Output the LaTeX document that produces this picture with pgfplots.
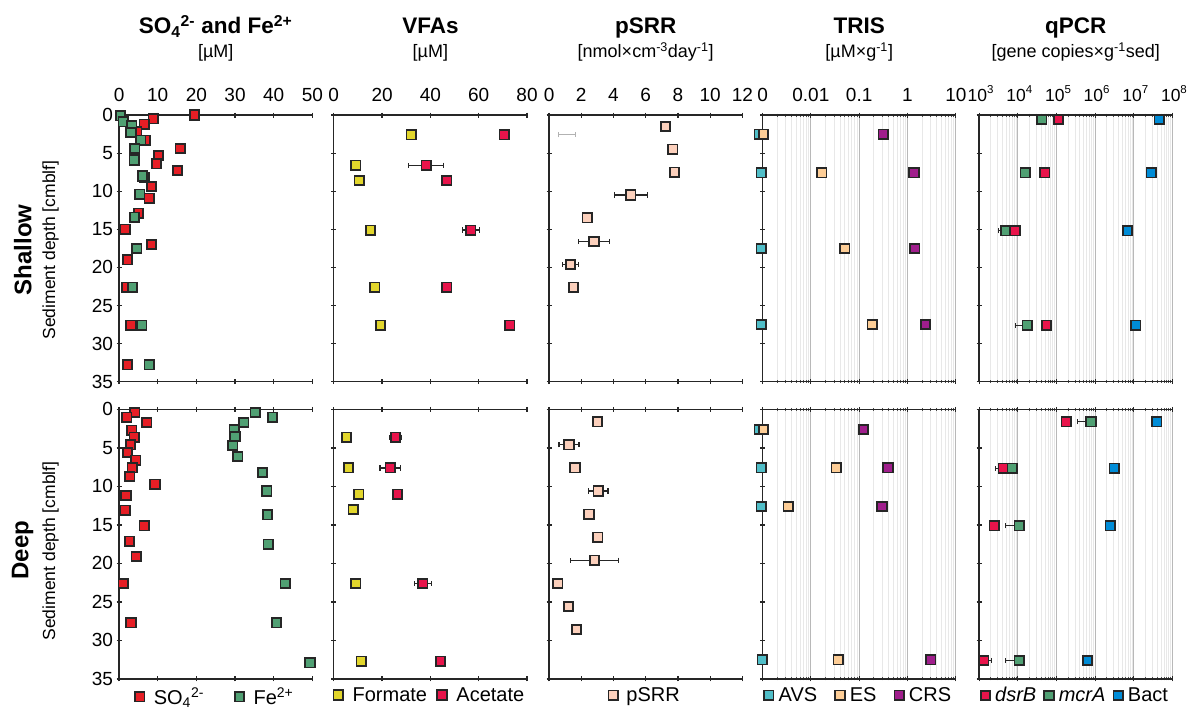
\documentclass[border=0pt]{standalone}
\usepackage{fontspec}
\setmainfont{Liberation Sans}
\usepackage{pgfplots}
\pgfplotsset{compat=1.18}

\definecolor{cSO}{HTML}{E61E25}
\definecolor{cFe}{HTML}{50A073}
\definecolor{cFor}{HTML}{E2D62C}
\definecolor{cAce}{HTML}{E8144B}
\definecolor{cSRR}{HTML}{FCD0BC}
\definecolor{cAVS}{HTML}{50BEC8}
\definecolor{cES}{HTML}{FDCD96}
\definecolor{cCRS}{HTML}{A01E8C}
\definecolor{cBact}{HTML}{008CD7}

\newcommand\tickf{\fontsize{19}{21}\selectfont}
\newcommand\legf{\fontsize{20}{22}\selectfont}
\newcommand\titf{\fontsize{22.5}{24}\selectfont\bfseries}
\newcommand\unitf{\fontsize{18}{20}\selectfont}
\newcommand\tenp[1]{10\raisebox{0.45em}{\fontsize{11.5}{12}\selectfont#1}}

\pgfplotsset{legend image code/.code={\draw[#1] plot coordinates {(0pt,0pt)};}}

\pgfplotsset{
  panel/.style={
    scale only axis, width=193.3pt, clip=false,
    ymin=0, ymax=35, y dir=reverse,
    separate axis lines, axis x line*=box, axis y line*=left,
    ytick={0,5,...,35}, yticklabels={},
    tick align=center, major tick length=5pt, minor tick length=3pt,
    axis line style={line width=1.4pt, draw=black!85},
    major tick style={line width=1.2pt, black!85},
    minor tick style={line width=0.6pt, black!70},
    tick label style={font=\tickf},
    /pgf/number format/assume math mode=true,
  },
  toprow/.style={height=266.7pt, xticklabel pos=upper, xticklabel style={yshift=7pt}},
  botrow/.style={height=269.5pt, xticklabels={}},
  leg/.style 2 args={legend columns=-1, legend style={draw=none, fill=none, font=\legf,
      at={(0.5,-0.027)}, anchor=north, inner sep=0pt,
      nodes={inner xsep=3pt, inner ysep=1pt},
      /tikz/every odd column/.append style={column sep=#1},
      /tikz/every even column/.append style={column sep=#2}}},
  mk/.style={only marks, mark=square*, mark size=4.7pt,
      mark options={draw=black!85, line width=1.7pt, fill=#1, solid}},
  errx/.style 2 args={only marks, mark=*, mark size=0.01pt,
      mark options={draw opacity=0, fill opacity=0}, forget plot,
      error bars/.cd, x dir=both, x explicit,
      error bar style={line width=#2, #1},
      error mark options={rotate=90, line width=#2, #1, mark size=2.6pt, draw opacity=1}},
  errk/.style={errx={black!85}{1.2pt}},
  trisax/.style={xmin=1e-3, xmax=10,
      xtick={1e-3,1e-2,1e-1,1,10}, xticklabels={0,0.01,0.1,1,10},
      minor xtick={2e-3,3e-3,4e-3,5e-3,6e-3,7e-3,8e-3,9e-3,
                   2e-2,3e-2,4e-2,5e-2,6e-2,7e-2,8e-2,9e-2,
                   0.2,0.3,0.4,0.5,0.6,0.7,0.8,0.9,2,3,4,5,6,7,8,9},
      xmajorgrids, xminorgrids,
      major grid style={black!28, line width=0.8pt},
      minor grid style={black!9, line width=0.6pt}},
  qpcrax/.style={xmin=1e3, xmax=1e8,
      xtick={1e3,1e4,1e5,1e6,1e7,1e8},
      xticklabels={\tenp{3},\tenp{4},\tenp{5},\tenp{6},\tenp{7},\tenp{8}},
      xticklabel style={font=\fontsize{17.5}{19}\selectfont, xshift=1.5pt},
      minor xtick={2e3,3e3,4e3,5e3,6e3,7e3,8e3,9e3,2e4,3e4,4e4,5e4,6e4,7e4,8e4,9e4,
                   2e5,3e5,4e5,5e5,6e5,7e5,8e5,9e5,2e6,3e6,4e6,5e6,6e6,7e6,8e6,9e6,
                   2e7,3e7,4e7,5e7,6e7,7e7,8e7,9e7},
      xmajorgrids, xminorgrids,
      major grid style={black!28, line width=0.8pt},
      minor grid style={black!9, line width=0.6pt}},
}

\begin{document}
\begin{tikzpicture}
\useasboundingbox (0,0) rectangle (1187pt,710pt);

% ---------- titles ----------
\node[anchor=base, font=\titf] at (215.7pt,676pt) {SO\textsubscript{4}\textsuperscript{2-} and Fe\textsuperscript{2+}};
\node[anchor=base, font=\unitf] at (215.7pt,652pt) {[µM]};
\node[anchor=base, font=\titf] at (430.4pt,676pt) {VFAs};
\node[anchor=base, font=\unitf] at (430.4pt,652pt) {[µM]};
\node[anchor=base, font=\titf] at (645.7pt,676pt) {pSRR};
\node[anchor=base, font=\unitf] at (645.7pt,652pt) {[nmol×cm\textsuperscript{-3}day\textsuperscript{-1}]};
\node[anchor=base, font=\titf] at (859.2pt,676pt) {TRIS};
\node[anchor=base, font=\unitf] at (859.2pt,652pt) {[µM×g\textsuperscript{-1}]};
\node[anchor=base, font=\titf] at (1075.8pt,676pt) {qPCR};
\node[anchor=base, font=\unitf] at (1075.8pt,652pt) {[gene copies×g\textsuperscript{-1}sed]};

% ---------- row labels ----------
\node[rotate=90, font=\fontsize{24}{26}\selectfont\bfseries] at (22.7pt,460pt) {Shallow};
\node[rotate=90, font=\fontsize{17.5}{19}\selectfont] at (50.5pt,460pt) {Sediment depth [cmblf]};
\node[rotate=90, font=\fontsize{24}{26}\selectfont\bfseries] at (22.7pt,160pt) {Deep};
\node[rotate=90, font=\fontsize{17.5}{19}\selectfont] at (50.5pt,159pt) {Sediment depth [cmblf]};

% ================= TOP ROW =================
\begin{axis}[panel, toprow, at={(215.7pt,461.65pt)}, anchor=center,
  xmin=0, xmax=50, xtick={0,10,...,50}, yticklabels={0,5,10,15,20,25,30,35}]
\addplot[mk=cSO] table {
x y
19.5 0
8.8 0.5
6.5 1.2
4.6 2.2
6.8 3.3
15.8 4.4
10.2 5.3
9.7 6.4
15.1 7.3
6.5 8.2
8.4 9.4
7.8 10.9
5.0 12.9
1.6 15.0
8.4 17.0
2.2 19.0
2.0 22.6
3.1 27.6
2.2 32.8
};
\addplot[mk=cFe] table {
x y
0.4 0.1
1.1 0.9
3.3 1.4
3.1 2.3
5.6 3.3
4.1 4.4
3.9 5.9
6.1 8.0
5.4 10.4
4.0 13.4
4.6 17.5
3.5 22.6
5.9 27.6
7.8 32.8
};
\end{axis}

\begin{axis}[panel, toprow, at={(430.4pt,461.65pt)}, anchor=center,
  xmin=0, xmax=80, xtick={0,20,...,80}]
\addplot[errk] table[x=x, y=y, x error plus=e, x error minus=e] {
x y e
38.2 6.6 7.3
56.7 15.1 3.5
72.8 27.6 1.0
};
\addplot[mk=cFor] table {
x y
32.0 2.6
9.1 6.6
10.5 8.6
15.2 15.1
17.0 22.6
19.4 27.6
};
\addplot[mk=cAce] table {
x y
70.6 2.6
38.2 6.6
46.8 8.6
56.7 15.1
46.8 22.6
72.8 27.6
};
\end{axis}

\begin{axis}[panel, toprow, at={(645.7pt,461.65pt)}, anchor=center,
  xmin=0, xmax=12, xtick={0,2,...,12}]
\addplot[errx={black!30}{0.7pt}] table[x=x, y=y, x error plus=e, x error minus=e] {
x y e
1.1 2.6 0.53
};
\addplot[errk] table[x=x, y=y, x error plus=e, x error minus=e] {
x y e
5.07 10.5 1.03
2.79 16.6 0.96
1.34 19.6 0.5
};
\addplot[mk=cSRR] table {
x y
7.22 1.5
7.68 4.5
7.78 7.5
5.07 10.5
2.36 13.5
2.79 16.6
1.34 19.6
1.51 22.6
};
\end{axis}

\begin{semilogxaxis}[panel, trisax, toprow, at={(859.2pt,461.65pt)}, anchor=center]
\addplot[mk=cAVS] table {
x y
0.00085 2.5
0.00094 7.6
0.00094 17.5
0.00094 27.5
};
\addplot[mk=cES] table {
x y
0.00105 2.5
0.0168 7.6
0.050 17.5
0.187 27.5
};
\addplot[mk=cCRS] table {
x y
0.315 2.5
1.36 7.6
1.42 17.5
2.36 27.5
};
\end{semilogxaxis}

\begin{semilogxaxis}[panel, qpcrax, toprow, at={(1075.8pt,461.65pt)}, anchor=center]
\addplot[errk] table[x=x, y=y, x error plus=p, x error minus=m] {
x y p m
4800 15.2 0 1700
17400 27.6 0 8500
};
\addplot[mk=cFe] table {
x y
42000 0.6
15500 7.6
4800 15.2
17400 27.6
};
\addplot[mk=cAce] table {
x y
112000 0.6
50000 7.6
8500 15.2
55000 27.6
};
\addplot[mk=cBact] table {
x y
45000000 0.6
28000000 7.6
6900000 15.2
11200000 27.6
};
\end{semilogxaxis}

% ================= BOTTOM ROW =================
\begin{axis}[panel, botrow, at={(215.7pt,165.85pt)}, anchor=center,
  xmin=0, xmax=50, xtick={0,10,...,50}, yticklabels={0,5,10,15,20,25,30,35},
  leg={6.4pt}{27.8pt}]
\addplot[mk=cSO] table {
x y
4.1 0.4
2.0 1.0
7.2 1.7
3.3 2.7
3.9 3.6
3.0 4.6
2.2 5.6
4.3 6.6
3.4 7.6
2.8 8.7
9.3 9.7
1.8 11.2
1.6 13.1
6.5 15.1
2.7 17.1
4.4 19.1
1.1 22.6
3.1 27.7
};
\addplot[mk=cFe] table {
x y
35.2 0.4
39.7 1.0
32.3 1.7
29.8 2.6
30.0 3.5
29.4 4.7
30.7 6.1
37.1 8.2
38.2 10.6
38.4 13.7
38.6 17.5
43.0 22.6
40.7 27.7
49.4 32.9
};
\legend{SO\textsubscript{4}\textsuperscript{2-}, Fe\textsuperscript{2+}}
\end{axis}

\begin{axis}[panel, botrow, at={(430.4pt,165.85pt)}, anchor=center,
  xmin=0, xmax=80, xtick={0,20,...,80}, leg={6.7pt}{7.2pt}]
\addplot[errk] table[x=x, y=y, x error plus=e, x error minus=e] {
x y e
25.5 3.6 2.5
23.3 7.6 4.2
36.8 22.6 3.5
};
\addplot[mk=cFor] table {
x y
5.3 3.6
6.1 7.6
10.4 11.0
8.0 13.0
9.1 22.6
11.3 32.7
};
\addplot[mk=cAce] table {
x y
25.5 3.6
23.3 7.6
26.4 11.0
36.8 22.6
44.2 32.7
};
\legend{Formate, Acetate}
\end{axis}

\begin{axis}[panel, botrow, at={(645.7pt,165.85pt)}, anchor=center,
  xmin=0, xmax=12, xtick={0,2,...,12}, leg={5.4pt}{0pt}]
\addplot[errk] table[x=x, y=y, x error plus=e, x error minus=e] {
x y e
1.24 4.6 0.62
3.06 10.6 0.6
2.83 19.6 1.5
};
\addplot[mk=cSRR] table {
x y
3.0 1.6
1.24 4.6
1.61 7.6
3.06 10.6
2.48 13.6
3.02 16.6
2.83 19.6
0.54 22.6
1.2 25.6
1.7 28.6
};
\legend{pSRR}
\end{axis}

\begin{semilogxaxis}[panel, trisax, botrow, at={(859.2pt,165.85pt)}, anchor=center,
  leg={2.1pt}{15pt}]
\addplot[mk=cAVS] table {
x y
0.00085 2.6
0.00094 7.6
0.00094 12.6
0.00098 32.5
};
\addplot[mk=cES] table {
x y
0.00105 2.6
0.0333 7.6
0.0034 12.6
0.037 32.5
};
\addplot[mk=cCRS] table {
x y
0.122 2.6
0.394 7.6
0.296 12.6
3.05 32.5
};
\legend{AVS, ES, CRS}
\end{semilogxaxis}

\begin{semilogxaxis}[panel, qpcrax, botrow, at={(1075.8pt,165.85pt)}, anchor=center,
  leg={2.1pt}{5pt}]
\addplot[errk] table[x=x, y=y, x error plus=p, x error minus=m] {
x y p m
780000 1.6 0 430000
4200 7.65 0 1600
10800 15.1 0 5900
1320 32.6 800 0
10800 32.6 0 6000
};
\addplot[mk=cAce] table {
x y
178000 1.6
4200 7.65
2440 15.1
1320 32.6
};
\addplot[mk=cFe] table {
x y
780000 1.6
7100 7.65
10800 15.1
10800 32.6
};
\addplot[mk=cBact] table {
x y
39000000 1.6
3100000 7.65
2450000 15.1
630000 32.6
};
\legend{\textit{dsrB}, \textit{mcrA}, Bact}
\end{semilogxaxis}
\end{tikzpicture}
\end{document}
